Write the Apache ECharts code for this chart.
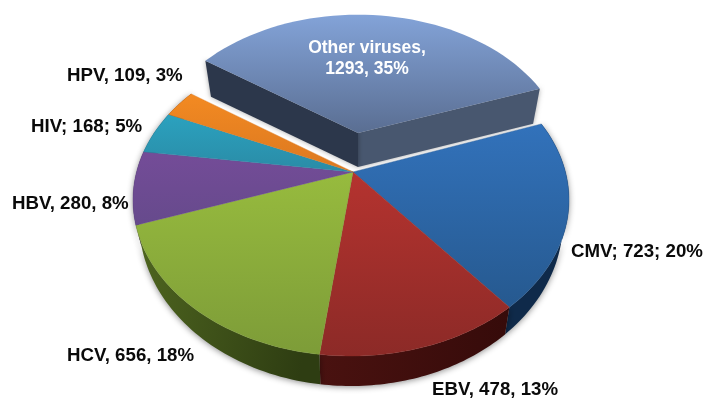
<!DOCTYPE html>
<html><head><meta charset="utf-8">
<style>html,body{margin:0;padding:0;background:#fff}#c{width:703px;height:399px}</style>
<script src="https://cdn.jsdelivr.net/npm/echarts@6/dist/echarts.min.js"></script>
</head><body><div id="c"></div>
<script>
var names = ['CMV','EBV','HCV','HBV','HIV','HPV','Other viruses'];
var values = [723,478,656,280,168,109,1293];
var percents = [20,13,18,8,5,3,35];
var separators = ['; ',', ',', ',', ','; ',', ',', '];
var topColors = [['#3272bb','#26598f'],['#b5332f','#8c2a27'],['#97bb3e','#7d9c38'],['#744c98','#664a8c'],['#2ba2bf','#2a8ba6'],['#f38a22','#db7820'],['#83a3d8','#5a6e92']];
var wallColors = [['#1a3d66','#0f2a4a'],['#4a1210','#360b0a'],['#4f6620','#2e3d12'],['#3a2650','#3a2650'],['#155060','#155060'],['#7a4010','#7a4010']];
var otherWalls = ['#48576f','#2c374b'];
var labelPos = [[571,252],[432,390],[67,356],[12,204],[31,127],[67,76]];

var total = values.reduce(function(a,b){return a+b;},0);
var START = 19.7, P = 0.18;
var TOP = {cx:351,cy:200,rx:218,ry:156}, BOT = {cx:351,cy:221,rx:212,ry:165};
var LABEL_FONT = 'bold 18.7px "Liberation Sans"', OTHER_FONT = 'bold 17.5px "Liberation Sans"';

function proj(deg){
  var a = deg*Math.PI/180, x = Math.cos(a), y = Math.sin(a), d = 1+P*y;
  return [x*Math.sqrt(1-P*P)/d, (y+P)/d];
}
function onEll(e,n){return [e.cx+e.rx*n[0], e.cy-e.ry*n[1]];}
var CENTER0 = [TOP.cx, TOP.cy-TOP.ry*P];
function pulled(n,apex,sx,sy){
  var p = onEll(TOP,n);
  return [apex[0]+sx*(p[0]-CENTER0[0]), apex[1]+sy*(p[1]-CENTER0[1])];
}
var angs = [], acc = START;
values.forEach(function(v){var s=acc; acc -= v/total*360; angs.push([s,acc]);});
function arc(i){
  var r=[], N=48, s=angs[i][0], e=angs[i][1];
  for(var k=0;k<=N;k++) r.push(proj(s+(e-s)*k/N));
  return r;
}
function grad(c,x2,y2){return new echarts.graphic.LinearGradient(0,0,x2||0,y2===undefined?1:y2,[{offset:0,color:c[0]},{offset:1,color:c[1]}]);}
var OTHER = 6;
var APEX = [TOP.cx+2, CENTER0[1]];

function renderWall(params,api){
  var i = api.value(1), a = arc(i);
  if(i===OTHER){
    var tA=[358,133], bA=[358,167];
    var t0=pulled(a[0],tA,.955,.925), t1=pulled(a[a.length-1],tA,.955,.925);
    var b0=pulled(a[0],bA,.92,.9), b1=pulled(a[a.length-1],bA,.92,.9);
    var sh={shadowBlur:5,shadowColor:'rgba(0,0,0,0.35)'};
    return {type:'group',children:[
      {type:'polygon',shape:{points:[tA,t1,b1,bA]},style:Object.assign({fill:otherWalls[0]},sh)},
      {type:'polygon',shape:{points:[tA,t0,b0,bA]},style:Object.assign({fill:otherWalls[1]},sh)}
    ]};
  }
  var up=a.map(function(n){return onEll(TOP,n);}), lo=a.map(function(n){return onEll(BOT,n);}).reverse();
  return {type:'polygon',shape:{points:up.concat(lo)},style:{fill:grad(wallColors[i],1,0.2),shadowBlur:6,shadowOffsetY:1,shadowColor:'rgba(0,0,0,0.45)'}};
}
function renderTop(params,api){
  var i = api.value(1), a = arc(i), pts, kids=[];
  if(i===OTHER){
    var tA=[358,133];
    pts=[tA].concat(a.map(function(n){return pulled(n,tA,.955,.925);}));
    kids.push({type:'polygon',shape:{points:pts},style:{fill:grad(topColors[i])}});
    kids.push({type:'text',z2:10,style:{x:367,y:58.5,text:names[i]+',\n'+values[i]+', '+percents[i]+'%',align:'center',verticalAlign:'middle',fill:'#fff',font:OTHER_FONT,lineHeight:21}});
  } else {
    pts=[APEX].concat(a.map(function(n){return onEll(TOP,n);}));
    var c=topColors[i];
    kids.push({type:'polygon',shape:{points:pts},style:{fill:grad(c),stroke:c[1],lineWidth:0.4}});
    kids.push({type:'text',z2:10,style:{x:labelPos[i][0],y:labelPos[i][1],text:names[i]+separators[i]+values[i]+separators[i]+percents[i]+'%',verticalAlign:'middle',fill:'#0a0a0a',font:LABEL_FONT}});
  }
  return {type:'group',children:kids};
}
var data = values.map(function(v,i){return [v,i];});
var chart = echarts.init(document.getElementById('c'),null,{renderer:'canvas'});
chart.setOption({animation:false,backgroundColor:'#fff',series:[
  {type:'custom',coordinateSystem:'none',data:data,renderItem:renderWall,z:1,silent:true},
  {type:'custom',coordinateSystem:'none',data:data,renderItem:renderTop,z:2,silent:true}
]});
</script></body></html>
